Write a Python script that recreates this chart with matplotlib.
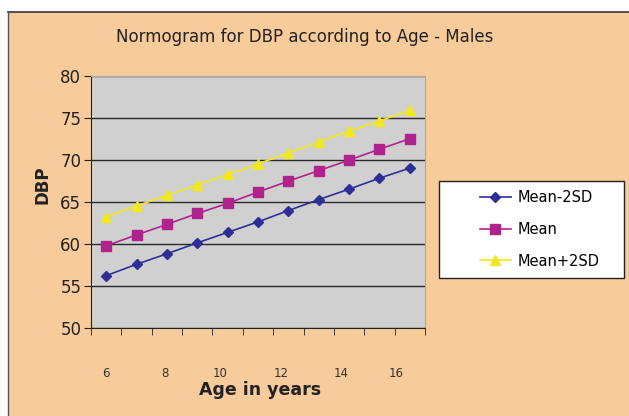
import matplotlib.pyplot as plt
from matplotlib.patches import Rectangle
from matplotlib.lines import Line2D

# age groups (years) and DBP normogram values
ages = [6, 7, 8, 9, 10, 11, 12, 13, 14, 15, 16]
mean_minus_2sd = [56.2, 57.55, 58.8, 60.1, 61.35, 62.6, 63.95, 65.25, 66.5, 67.8, 69.0]
mean = [59.75, 61.05, 62.3, 63.6, 64.8, 66.15, 67.45, 68.7, 69.95, 71.25, 72.5]
mean_plus_2sd = [63.2, 64.5, 65.75, 67.0, 68.25, 69.5, 70.8, 72.1, 73.4, 74.6, 75.9]

age_ticks = [6, 8, 10, 12, 14, 16]
dbp_ticks = [50, 55, 60, 65, 70, 75, 80]

orange = "#F8CB9A"
idx = list(range(len(ages)))

fig = plt.figure(figsize=(6.29, 4.16), dpi=100, facecolor="white")

# orange chart panel with dark top/left edge
W, H = 629, 416
fig.patches.append(Rectangle((8 / W, 0), 1, 1 - 12 / H, transform=fig.transFigure,
                             facecolor=orange, edgecolor="none", zorder=-2))
fig.lines.append(Line2D([8 / W, 1], [1 - 12 / H] * 2, transform=fig.transFigure,
                        color="#333333", lw=1.2))
fig.lines.append(Line2D([8 / W] * 2, [0, 1 - 12 / H], transform=fig.transFigure,
                        color="#555555", lw=1.0))

ax = fig.add_axes([91 / W, 1 - 327.7 / H, 334 / W, 252 / H])
ax.set_facecolor("#D0D0D0")

ax.plot(idx, mean_minus_2sd, color="#2E2E96", marker="D", ms=5, lw=1.2, label="Mean-2SD")
ax.plot(idx, mean, color="#B0238D", marker="s", ms=7, lw=1.2, label="Mean")
ax.plot(idx, mean_plus_2sd, color="#F2E81E", marker="^", ms=7, lw=1.2, label="Mean+2SD")

ax.set_ylim(50, 80)
ax.set_yticks(dbp_ticks)
ax.tick_params(axis="y", labelsize=12, length=5, direction="out", pad=2, colors="#222222")
ax.yaxis.grid(True, color="#2a2a2a", lw=1.0)
ax.set_axisbelow(True)

# category boundaries get the tick marks, age labels sit well below the axis
ax.set_xlim(-0.5, len(ages) - 0.5)
ax.set_xticks([i - 0.5 for i in range(len(ages) + 1)], minor=True)
label_pos = [0, 1.92, 3.76, 5.75, 7.73, 9.54]
ax.set_xticks(label_pos)
ax.set_xticklabels([str(a) for a in age_ticks])
ax.tick_params(axis="x", which="major", length=0, pad=28, labelsize=8.5, colors="#333333")
ax.tick_params(axis="x", which="minor", length=5, direction="out", color="#222222")

for s in ["left", "bottom"]:
    ax.spines[s].set_color("#222222")
for s in ["top", "right"]:
    ax.spines[s].set_color("#A8A8A8")

ax.set_ylabel("DBP", fontsize=12, fontweight="bold", color="#222222")
ax.yaxis.set_label_coords(-0.117, 0.566)
ax.set_xlabel("Age in years", fontsize=12.5, fontweight="bold", color="#222222")
ax.xaxis.set_label_coords(0.506, -0.212)

fig.text(305 / W, 1 - 37 / H, "Normogram for DBP according to Age - Males",
         ha="center", va="center", fontsize=12, color="#222222")

# legend box, entries centred inside it
fig.patches.append(Rectangle((439 / W, 1 - 278 / H), 185 / W, 97 / H, transform=fig.transFigure,
                             facecolor="white", edgecolor="#222222", lw=1.0, zorder=1))
leg = fig.legend(loc="upper left", bbox_to_anchor=(480 / W, 1 - 190 / H),
                 fontsize=10.5, frameon=False, labelspacing=1.15, handlelength=2.1,
                 handletextpad=0.45, borderpad=0, borderaxespad=0)
leg.set_zorder(2)

fig.savefig("out.png", dpi=100, facecolor=fig.get_facecolor())
